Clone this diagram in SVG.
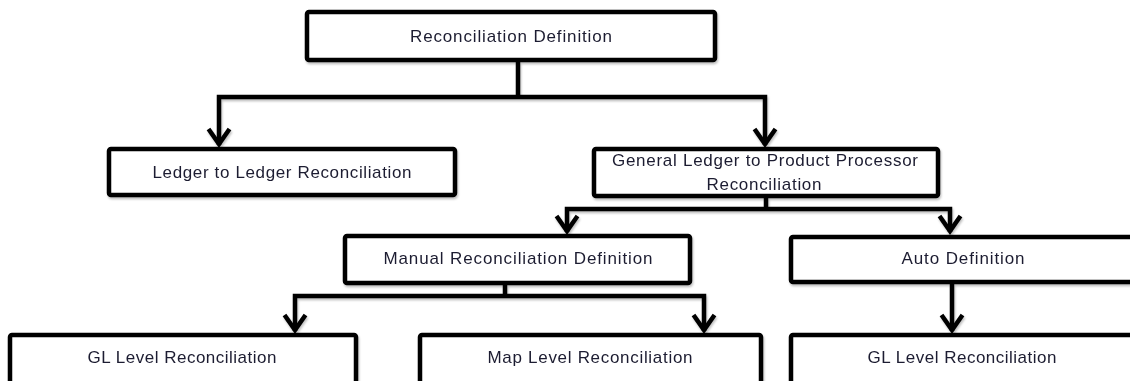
<svg xmlns="http://www.w3.org/2000/svg" width="1130" height="381" viewBox="0 0 1130 381">
<defs>
<style>
.box{fill:#fff;stroke:#000;stroke-width:4.5;}
.lbl{font-family:"Liberation Sans",Arial,sans-serif;font-size:17px;fill:#1c1c30;text-anchor:middle;}
.con{fill:none;stroke:#000;stroke-width:4.5;stroke-linejoin:miter;}
</style>
<filter id="sh" x="-5%" y="-5%" width="110%" height="120%">
<feDropShadow dx="1" dy="2" stdDeviation="1" flood-color="#000" flood-opacity="0.25"/>
</filter>
<marker id="arr" markerUnits="userSpaceOnUse" viewBox="-20 -14 24 28" markerWidth="24" markerHeight="28" refX="0" refY="0" orient="auto">
<path d="M-16,-10.5 L-1,0 L-16,10.5" fill="none" stroke="#000" stroke-width="4.5" stroke-linejoin="miter"/>
</marker>
</defs>
<g id="connectors" filter="url(#sh)">
<path class="con" d="M518,62 V97"/>
<path class="con" d="M518,97 H219 V145" marker-end="url(#arr)"/>
<path class="con" d="M518,97 H765 V145" marker-end="url(#arr)"/>
<path class="con" d="M766,198 V209"/>
<path class="con" d="M766,209 H567 V232" marker-end="url(#arr)"/>
<path class="con" d="M766,209 H950 V232" marker-end="url(#arr)"/>
<path class="con" d="M505,285 V296"/>
<path class="con" d="M505,296 H295 V331" marker-end="url(#arr)"/>
<path class="con" d="M505,296 H704 V331" marker-end="url(#arr)"/>
<path class="con" d="M952,284 V331" marker-end="url(#arr)"/>
</g>
<g id="n-root" filter="url(#sh)">
<rect class="box" x="307" y="12" width="408" height="48" rx="2"/>
<text class="lbl" x="511" y="42" textLength="202" lengthAdjust="spacing">Reconciliation Definition</text>
</g>
<g id="n-ledger" filter="url(#sh)">
<rect class="box" x="109" y="149" width="346" height="46" rx="2"/>
<text class="lbl" x="282" y="178" textLength="259" lengthAdjust="spacing">Ledger to Ledger Reconciliation</text>
</g>
<g id="n-glpp" filter="url(#sh)">
<rect class="box" x="594" y="149" width="344" height="47" rx="2"/>
<text class="lbl" x="765" y="166" textLength="306" lengthAdjust="spacing">General Ledger to Product Processor</text>
<text class="lbl" x="764" y="190" textLength="115" lengthAdjust="spacing">Reconciliation</text>
</g>
<g id="n-manual" filter="url(#sh)">
<rect class="box" x="345" y="236" width="345" height="47" rx="2"/>
<text class="lbl" x="518" y="264" textLength="269" lengthAdjust="spacing">Manual Reconciliation Definition</text>
</g>
<g id="n-auto" filter="url(#sh)">
<rect class="box" x="791" y="237" width="350" height="45" rx="2"/>
<text class="lbl" x="963" y="264" textLength="123" lengthAdjust="spacing">Auto Definition</text>
</g>
<g id="n-gl-left" filter="url(#sh)">
<rect class="box" x="10" y="335" width="346" height="60" rx="2"/>
<text class="lbl" x="182" y="363" textLength="189" lengthAdjust="spacing">GL Level Reconciliation</text>
</g>
<g id="n-map" filter="url(#sh)">
<rect class="box" x="420" y="335" width="341" height="60" rx="2"/>
<text class="lbl" x="590" y="363" textLength="205" lengthAdjust="spacing">Map Level Reconciliation</text>
</g>
<g id="n-gl-right" filter="url(#sh)">
<rect class="box" x="791" y="335" width="350" height="60" rx="2"/>
<text class="lbl" x="962" y="363" textLength="189" lengthAdjust="spacing">GL Level Reconciliation</text>
</g>
</svg>
